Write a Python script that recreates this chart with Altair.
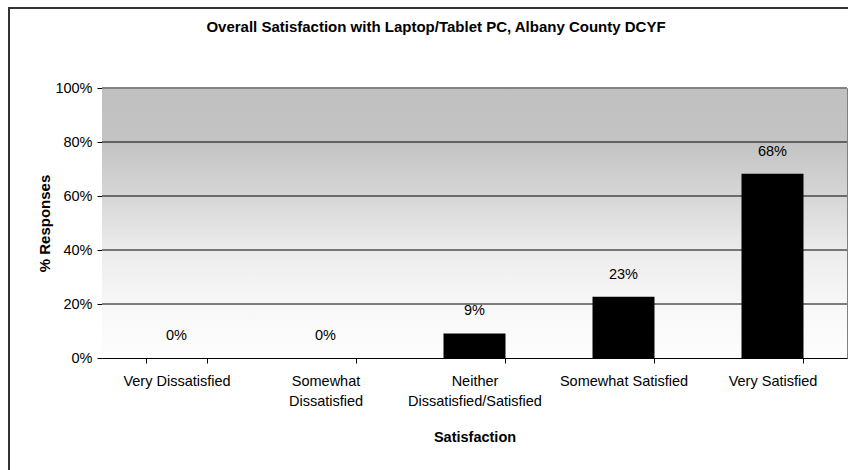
import altair as alt
import pandas as pd

categories = ["Very Dissatisfied", "Somewhat Dissatisfied", "Neither Dissatisfied/Satisfied",
              "Somewhat Satisfied", "Very Satisfied"]
values = [0.0, 0.0, 0.091, 0.227, 0.682]
y_ticks = [0, 0.2, 0.4, 0.6, 0.8, 1.0]
grid_vals = [0.2, 0.4, 0.6, 0.8]
title_text = "Overall Satisfaction with Laptop/Tablet PC, Albany County DCYF"

df = pd.DataFrame({"cat": categories, "pct": values})
grid_df = pd.DataFrame({"g": grid_vals})
title_df = pd.DataFrame({"t": [title_text]})

FONT = "Liberation Sans"
FS = 14.5

label_expr = ("datum.label == 'Somewhat Dissatisfied' ? ['Somewhat', 'Dissatisfied'] : "
              "datum.label == 'Neither Dissatisfied/Satisfied' ? ['Neither', 'Dissatisfied/Satisfied'] : datum.label")

x = alt.X("cat:N", sort=categories,
          scale=alt.Scale(paddingInner=0.584, paddingOuter=0.292),
          axis=alt.Axis(title="Satisfaction", labelAngle=0, labelExpr=label_expr,
                        tickBand="extent", tickSize=5, tickColor="#000000",
                        domainColor="#000000", labelFontSize=FS, labelFont=FONT,
                        labelColor="#000000", labelPadding=18, labelBaseline="middle",
                        labelLineHeight=20,
                        titleFontSize=FS, titleFont=FONT, titleFontWeight="bold",
                        titleColor="#000000", titleX=372.5, titleY=79,
                        titleBaseline="middle", titleAlign="center"))

y_scale = alt.Scale(domain=[0, 1], nice=False)

y = alt.Y("pct:Q", scale=y_scale,
          axis=alt.Axis(title="% Responses", format=".0%", values=y_ticks,
                        grid=False,
                        tickSize=5, tickColor="#000000", domainColor="#444444",
                        labelFontSize=FS, labelFont=FONT, labelColor="#000000",
                        labelPadding=5,
                        titleFontSize=FS + 0.5, titleFont=FONT, titleFontWeight="bold",
                        titleColor="#000000", titleX=-58, titleY=135,
                        titleAngle=270, titleBaseline="middle", titleAlign="center"))

gradient = alt.LinearGradient(
    gradient="linear", x1=0, y1=0, x2=0, y2=1,
    stops=[alt.GradientStop(offset=0, color="#c0c0c0"),
           alt.GradientStop(offset=0.2, color="#c3c3c3"),
           alt.GradientStop(offset=0.4, color="#d6d6d6"),
           alt.GradientStop(offset=0.6, color="#ececec"),
           alt.GradientStop(offset=0.8, color="#f7f7f7"),
           alt.GradientStop(offset=1, color="#fdfdfd")])

bg = alt.Chart(df).mark_rect(color=gradient).encode(
    x=alt.value(0), x2=alt.value(745),
    y=alt.Y("top:Q", scale=y_scale), y2=alt.Y2("bottom:Q")
).transform_aggregate(n="count()").transform_calculate(top="1", bottom="0")

grid = alt.Chart(grid_df).mark_rule(color="#000000", strokeWidth=1).encode(
    y=alt.Y("g:Q", scale=y_scale))

frame = alt.Chart(df).mark_rect(fill=None, stroke="#333333", strokeWidth=2).encode(
    x=alt.value(-93), x2=alt.value(780), y=alt.value(-80), y2=alt.value(400))

bars = alt.Chart(df).mark_bar(color="#000000", strokeWidth=0).encode(x=x, y=y)

labels = alt.Chart(df).mark_text(dy=-22, fontSize=FS, font=FONT, color="#000000",
                                 baseline="middle").encode(
    x=alt.X("cat:N", sort=categories), y="pct:Q", text=alt.Text("pct:Q", format=".0%"))

top_line = alt.Chart(df).mark_rule(color="#808080", strokeWidth=1).encode(
    y=alt.datum(1.0))

title = alt.Chart(title_df).mark_text(fontSize=15, font=FONT, fontWeight="bold",
                                      color="#000000", baseline="middle", align="center").encode(
    x=alt.value(334), y=alt.value(-61), text="t:N")

chart = alt.layer(bg, grid, bars, labels, top_line, frame, title).properties(
    width=745, height=270,
    padding={"left": 102, "top": 88, "right": 1, "bottom": 112},
    autosize=alt.AutoSizeParams(type="none"),
    background="#ffffff",
).configure_view(
    stroke="#808080", strokeWidth=1,
)

chart.save("out.html", embed_options={"renderer": "svg", "actions": False})
